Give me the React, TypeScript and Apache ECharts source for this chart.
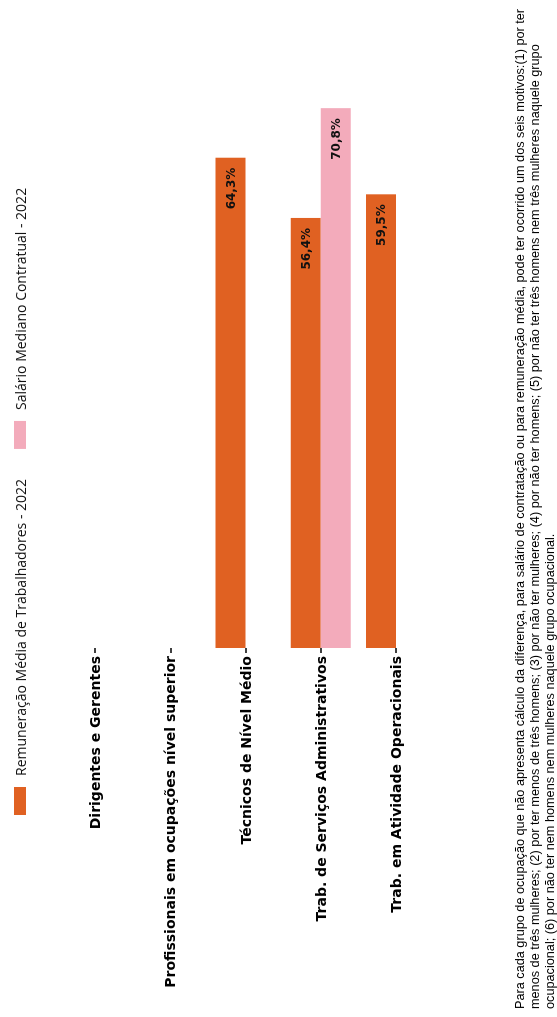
import React, { useEffect, useRef } from "react";
import * as echarts from "echarts";

const categories = [
  "Dirigentes e Gerentes",
  "Profissionais em ocupações nível superior",
  "Técnicos de Nível Médio",
  "Trab. de Serviços Administrativos",
  "Trab. em Atividade Operacionais",
];
const seriesNames = ["Remuneração Média de Trabalhadores - 2022", "Salário Mediano Contratual - 2022"];
const remuneracao = [null, null, 64.3, 56.4, 59.5];
const salario = [null, null, null, 70.8, null];
const footnoteLines = [
  "Para cada grupo de ocupação que não apresenta cálculo da diferença, para salário de contratação ou para remuneração média, pode ter ocorrido um dos seis motivos:(1) por ter",
  "menos de três mulheres; (2) por ter menos de três homens; (3) por não ter mulheres; (4) por não ter homens; (5) por não ter três homens nem três mulheres naquele grupo",
  "ocupacional; (6) por não ter nem homens nem mulheres naquele grupo ocupacional.",
];

const W = 1017;
const H = 557;

export default function App() {
  const ref = useRef<HTMLDivElement>(null);
  useEffect(() => {
    if (!ref.current) return;
    const chart = echarts.init(ref.current, null, { renderer: "svg" });
    const fmt = (p: any) => (p.value == null ? "" : Number(p.value).toFixed(1).replace(".", ",") + "%");
    const label = {
      show: true,
      position: "insideRight",
      distance: 10,
      formatter: fmt,
      fontFamily: "DejaVu Sans",
      fontWeight: "bold",
      fontSize: 12,
      color: "#111",
    };
    chart.setOption({
      animation: false,
      backgroundColor: "#ffffff",
      legend: {
        left: 197,
        top: 8,
        itemWidth: 28,
        itemHeight: 12,
        itemGap: 30,
        icon: "rect",
        data: seriesNames,
        textStyle: { fontFamily: "Open Sans", fontSize: 14, color: "#111", padding: [0, 0, 0, 6] },
      },
      grid: { left: 369, right: 38, top: 57.4, bottom: 123.4, containLabel: false },
      xAxis: {
        type: "value",
        min: 0,
        max: 80,
        show: false,
      },
      yAxis: {
        type: "category",
        inverse: true,
        data: categories,
        axisLine: { show: false },
        axisTick: { show: true, length: 5, lineStyle: { color: "#000", width: 1.5 }, alignWithLabel: true },
        axisLabel: { margin: 8, fontFamily: "DejaVu Sans", fontWeight: "bold", fontSize: 14, color: "#000" },
      },
      series: [
        {
          name: seriesNames[0],
          type: "bar",
          data: remuneracao,
          barWidth: 30,
          barGap: "0%",
          itemStyle: { color: "#E06122" },
          label,
        },
        {
          name: seriesNames[1],
          type: "bar",
          data: salario,
          barWidth: 30,
          barGap: "0%",
          itemStyle: { color: "#F3ABBB" },
          label,
        },
      ],
      graphic: [
        {
          type: "text",
          left: 8,
          top: 512,
          style: {
            text: footnoteLines.join("\n"),
            font: '12.7px "Liberation Sans"',
            lineHeight: 15,
            fill: "#000",
          },
        },
      ],
    });
    return () => chart.dispose();
  }, []);
  return (
    <div
      style={{
        position: "fixed",
        left: 0,
        top: 0,
        width: W,
        height: H,
        transformOrigin: "0 0",
        transform: `translateY(${W}px) rotate(-90deg)`,
        background: "#fff",
      }}
    >
      <div ref={ref} style={{ width: W, height: H }} />
    </div>
  );
}
